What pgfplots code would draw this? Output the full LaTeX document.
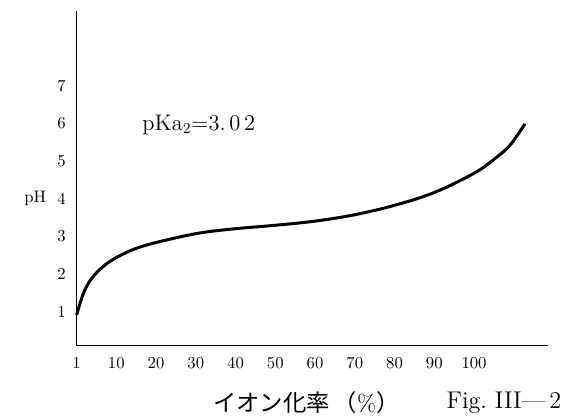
\documentclass[border=0pt]{standalone}
\usepackage{pgfplots}
\pgfplotsset{compat=1.18}
\usepackage{fontspec}
\newfontfamily\cjk{Noto Sans CJK JP}
\begin{document}
\begin{tikzpicture}
\clip (-45.9pt,-44.46pt) rectangle (290.7pt,207.5pt);
\begin{axis}[
    scale only axis,
    width=282.9pt, height=201.2pt,
    xmin=0, xmax=118.6,
    ymin=0.1, ymax=9,
    axis lines=left,
    axis line style={-, line width=0.7pt},
    major tick length=0pt,
    xtick={0,10,...,100},
    xticklabels={1,10,20,30,40,50,60,70,80,90,100},
    ytick={1,...,7},
    tick label style={font=\fontsize{10}{12}\selectfont},
    xticklabel style={yshift=-3.3pt},
    yticklabel style={xshift=-3pt},
    clip=false,
]
\addplot[black, line width=1.8pt, smooth, tension=0.6] coordinates {
    (0.05,0.92) (0.9,1.23) (2.1,1.58) (4.2,1.94) (8.4,2.34) (15.1,2.69)
    (23.5,2.93) (31.9,3.11) (41.1,3.22) (50,3.30) (60,3.41) (70,3.58)
    (80,3.83) (90,4.17) (100,4.68) (105,5.05) (109,5.42) (112.8,5.99)
};
\node[anchor=west, inner sep=0pt, font=\fontsize{13.5}{15}\selectfont] at (axis cs:16.5,5.97) {pKa$_2$=3.\,0\,2};
\node[font=\fontsize{10}{12}\selectfont] at (axis cs:-10.4,4.0) {pH};
\node[font=\fontsize{14}{16}\selectfont] at (axis cs:57.8,-1.41) {{\cjk イオン化率\,（}\%{\cjk ）}};
\node[anchor=west, inner sep=0pt, font=\fontsize{14.5}{16}\selectfont] at (axis cs:93,-1.41) {Fig.\ III---\,2};
\end{axis}
\end{tikzpicture}
\end{document}
